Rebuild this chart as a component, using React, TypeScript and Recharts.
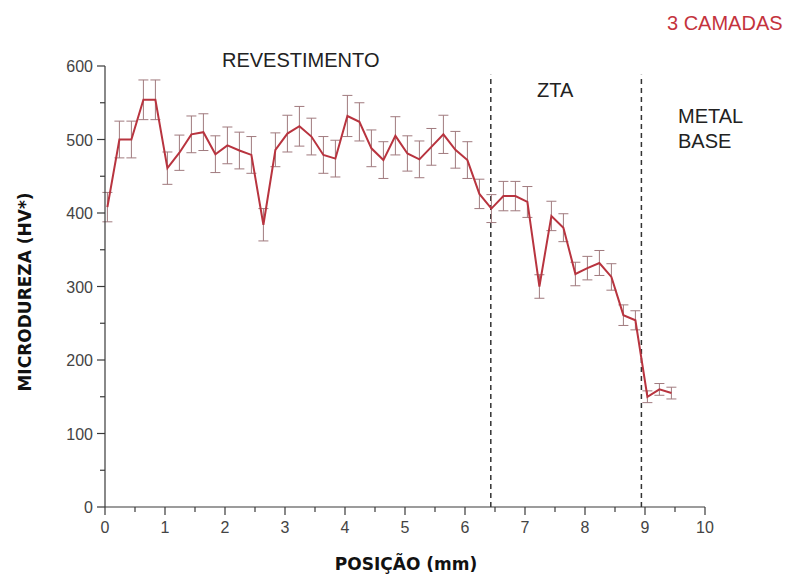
import { ComposedChart, Line, XAxis, YAxis, ErrorBar, ReferenceLine } from 'recharts'

// posição (mm) de cada medição
const positions = [
  0.04, 0.24, 0.44, 0.64, 0.84, 1.04, 1.24, 1.44, 1.64, 1.84,
  2.04, 2.24, 2.44, 2.64, 2.84, 3.04, 3.24, 3.44, 3.64, 3.84,
  4.04, 4.24, 4.44, 4.64, 4.84, 5.04, 5.24, 5.44, 5.64, 5.84,
  6.04, 6.24, 6.44, 6.64, 6.84, 7.04, 7.24, 7.44, 7.64, 7.84,
  8.04, 8.24, 8.44, 8.64, 8.84, 9.04, 9.24, 9.44,
]
// microdureza (HV*)
const hardness = [
  408, 500, 500, 554, 554, 461, 482, 507, 510, 480,
  492, 485, 479, 384, 486, 508, 518, 504, 479, 474,
  532, 524, 488, 472, 505, 481, 473, 490, 507, 486,
  472, 426, 406, 423, 423, 415, 300, 396, 380, 317,
  325, 332, 313, 261, 254, 150, 160, 155,
]
// desvio
const deviation = [
  20, 25, 25, 27, 27, 22, 24, 25, 25, 25,
  25, 25, 25, 22, 23, 25, 27, 25, 25, 25,
  28, 26, 25, 25, 26, 24, 25, 25, 26, 25,
  25, 20, 19, 20, 20, 21, 16, 20, 19, 16,
  16, 17, 18, 14, 13, 8, 8, 8,
]
const xTicks = [0, 0.5, 1, 1.5, 2, 2.5, 3, 3.5, 4, 4.5, 5, 5.5, 6, 6.5, 7, 7.5, 8, 8.5, 9, 9.5, 10]
const yTicks = [0, 50, 100, 150, 200, 250, 300, 350, 400, 450, 500, 550, 600]
const zoneLimits = [6.43, 8.94]

const data = positions.map((x, i) => ({ x, hv: hardness[i], err: deviation[i] }))

const FONT = 'Liberation Sans, Arial, sans-serif'
const BOLD = 'DejaVu Sans, sans-serif'
const AXIS = '#3a3a3a'

const XTick = ({ x, y, payload }: any) => {
  const major = Number.isInteger(payload.value)
  return (
    <g>
      <line x1={x} x2={x} y1={y} y2={y + (major ? 8 : 5)} stroke={AXIS} strokeWidth={1.2} />
      {major && (
        <text x={x} y={y + 26} textAnchor="middle" fontSize={16} fontFamily={FONT} fill="#444">
          {payload.value}
        </text>
      )}
    </g>
  )
}

const YTick = ({ x, y, payload }: any) => {
  const major = payload.value % 100 === 0
  return (
    <g>
      <line x1={x} x2={x - (major ? 8 : 5)} y1={y} y2={y} stroke={AXIS} strokeWidth={1.2} />
      {major && (
        <text x={x - 12} y={y + 6} textAnchor="end" fontSize={16} fontFamily={FONT} fill="#444">
          {payload.value}
        </text>
      )}
    </g>
  )
}

export default function App() {
  return (
    <div style={{ position: 'absolute', left: 0, top: 0, width: 795, height: 575, background: '#fff' }}>
      <ComposedChart
        width={795}
        height={575}
        data={data}
        margin={{ top: 66, right: 90, bottom: 28, left: 45 }}
      >
        <XAxis
          type="number"
          dataKey="x"
          domain={[0, 10]}
          ticks={xTicks}
          interval={0}
          height={40}
          tickSize={0}
          tickMargin={0}
          tick={<XTick />}
          stroke={AXIS}
          strokeWidth={1.2}
          allowDataOverflow
        />
        <YAxis
          type="number"
          domain={[0, 600]}
          ticks={yTicks}
          interval={0}
          width={60}
          tickSize={0}
          tickMargin={0}
          tick={<YTick />}
          stroke={AXIS}
          strokeWidth={1.2}
          allowDataOverflow
        />
        {zoneLimits.map((lx) => (
          <ReferenceLine
            key={lx}
            segment={[{ x: lx, y: 0 }, { x: lx, y: 588 }]}
            stroke="#333"
            strokeWidth={1.5}
            strokeDasharray="5 4"
          />
        ))}
        <Line
          type="linear"
          dataKey="hv"
          stroke="#b8343f"
          strokeWidth={2}
          dot={false}
          isAnimationActive={false}
        >
          <ErrorBar dataKey="err" width={5} stroke="#a07a7e" strokeWidth={1} />
        </Line>
      </ComposedChart>
      <svg width={795} height={575} style={{ position: 'absolute', left: 0, top: 0, pointerEvents: 'none' }}>
        <text x={667} y={30} fontSize={20} fontFamily={FONT} fill="#c4333d">3 CAMADAS</text>
        <text x={222} y={67} fontSize={20} fontFamily={FONT} fill="#222">REVESTIMENTO</text>
        <text x={537} y={97} fontSize={20} fontFamily={FONT} fill="#222">ZTA</text>
        <text x={678} y={123} fontSize={20} fontFamily={FONT} fill="#222">METAL</text>
        <text x={678} y={148} fontSize={20} fontFamily={FONT} fill="#222">BASE</text>
        <text x={406} y={570} fontSize={17} fontWeight="bold" fontFamily={BOLD} fill="#111" textAnchor="middle">
          POSIÇÃO (mm)
        </text>
        <text
          x={26}
          y={292}
          fontSize={17}
          fontWeight="bold"
          fontFamily={BOLD}
          fill="#111"
          textAnchor="middle"
          dominantBaseline="middle"
          transform="rotate(-90 26 292)"
        >
          MICRODUREZA (HV*)
        </text>
      </svg>
    </div>
  )
}
